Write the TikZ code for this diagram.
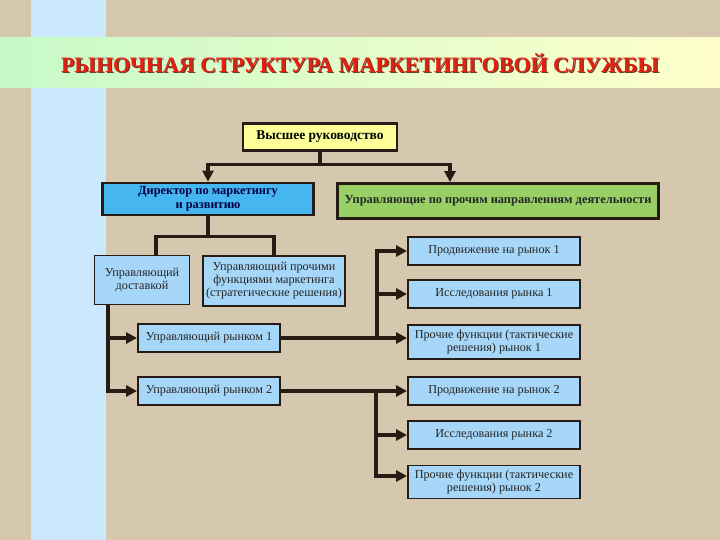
\documentclass[tikz,border=0pt]{standalone}
\usepackage{fontspec}
\setmainfont{Liberation Serif}
\usetikzlibrary{arrows.meta, positioning, calc}
\definecolor{canvas}{RGB}{214,200,174}
\definecolor{stripeblue}{RGB}{204,232,252}
\definecolor{bandgreen}{RGB}{198,250,200}
\definecolor{bandyellow}{RGB}{255,255,204}
\definecolor{titlered}{RGB}{228,32,18}
\definecolor{titleshade}{RGB}{110,60,40}
\definecolor{headyellow}{RGB}{255,255,153}
\definecolor{directorblue}{RGB}{70,182,240}
\definecolor{othergreen}{RGB}{153,208,102}
\definecolor{unitblue}{RGB}{166,214,248}
\definecolor{linkdark}{RGB}{38,28,20}
\tikzset{
    headbox/.style={rectangle, draw=linkdark, line width=2.8pt, inner sep=0pt, align=center, font=\fontsize{12.4}{13.5}\selectfont\bfseries},
    unitbox/.style={rectangle, draw=linkdark, line width=1.9pt, fill=unitblue, inner sep=0pt, align=center, text=black!85, font=\fontsize{12.2}{13}\selectfont},
    link/.style={linkdark, line width=3.2pt},
    arrow/.style={link, -{Triangle[length=11pt, width=11pt]}},
}

\begin{document}
\begin{tikzpicture}[
    x=1pt, y=-1pt,
    titletext/.style={font=\fontsize{22}{24}\selectfont\bfseries}
]
\useasboundingbox (0,0) rectangle (720,540);

% background
\fill[canvas] (0,0) rectangle (720,540);
\fill[stripeblue] (31,0) rectangle (106,540);
\shade[left color=bandgreen, right color=bandyellow] (0,38) rectangle (720,88);

% title
\node[titletext, text=titleshade] (title-shade) at (361.2,64.2) {РЫНОЧНАЯ СТРУКТУРА МАРКЕТИНГОВОЙ СЛУЖБЫ};
\node[titletext, text=titlered] (title) at (360,63) {РЫНОЧНАЯ СТРУКТУРА МАРКЕТИНГОВОЙ СЛУЖБЫ};

% top level
\node[headbox, fill=headyellow, minimum width=154, minimum height=27, font=\fontsize{13.5}{14}\selectfont\bfseries] (top) at (320,137) {Высшее руководство};
\node[headbox, fill=directorblue, text=blue!25!black, minimum width=211, minimum height=32] (director) at (208,199) {Директор по маркетингу\\и развитию};
\node[headbox, fill=othergreen, text=black!85, minimum width=321, minimum height=35] (other) at (498,201) {Управляющие по прочим направлениям деятельности};

% second level
\node[unitbox, minimum width=95, minimum height=49] (delivery) at (142,280) {Управляющий\\доставкой};
\node[unitbox, minimum width=142, minimum height=50] (strategic) at (274,281) {Управляющий прочими\\функциями маркетинга\\(стратегические решения)};

% markets
\node[unitbox, minimum width=142, minimum height=28] (market1) at (209,338) {Управляющий рынком 1};
\node[unitbox, minimum width=142, minimum height=28] (market2) at (209,391) {Управляющий рынком 2};

% market 1 functions
\node[unitbox, minimum width=172, minimum height=28] (promo1) at (494,251) {Продвижение на рынок 1};
\node[unitbox, minimum width=172, minimum height=28] (research1) at (494,294) {Исследования рынка 1};
\node[unitbox, minimum width=172, minimum height=34] (tactic1) at (494,342) {Прочие функции (тактические\\решения) рынок 1};

% market 2 functions
\node[unitbox, minimum width=172, minimum height=28] (promo2) at (494,391) {Продвижение на рынок 2};
\node[unitbox, minimum width=172, minimum height=28] (research2) at (494,435) {Исследования рынка 2};
\node[unitbox, minimum width=172, minimum height=33] (tactic2) at (494,482) {Прочие функции (тактические\\решения) рынок 2};

% top -> director / other
\coordinate (split1) at ([yshift=-13]top.south);
\draw[link] (top.south) -- (split1);
\draw[arrow] (split1) -| (director.north);
\draw[arrow] (split1) -| ([xshift=-48]other.north);

% director -> second level
\coordinate (split2) at ([yshift=-20]director.south);
\draw[link] (director.south) -- (split2) -| ([xshift=14]delivery.north);
\draw[link] (split2) -| (strategic.north);

% delivery -> markets
\coordinate (trunk) at ([xshift=-34]delivery.south);
\draw[arrow] (trunk) |- (market2.west);
\draw[arrow] (trunk |- market1.west) -- (market1.west);

% market 1 -> functions
\coordinate (bus1) at ([xshift=96]market1.east);
\draw[arrow] (market1.east) -- (market1.east -| tactic1.west);
\draw[arrow] (bus1) |- (promo1.west);
\draw[arrow] (bus1 |- research1.west) -- (research1.west);

% market 2 -> functions
\coordinate (bus2) at ([xshift=95]market2.east);
\draw[arrow] (market2.east) -- (promo2.west);
\draw[arrow] (bus2) |- ([yshift=6]tactic2.west);
\draw[arrow] (bus2 |- research2.west) -- (research2.west);

\end{tikzpicture}
\end{document}
